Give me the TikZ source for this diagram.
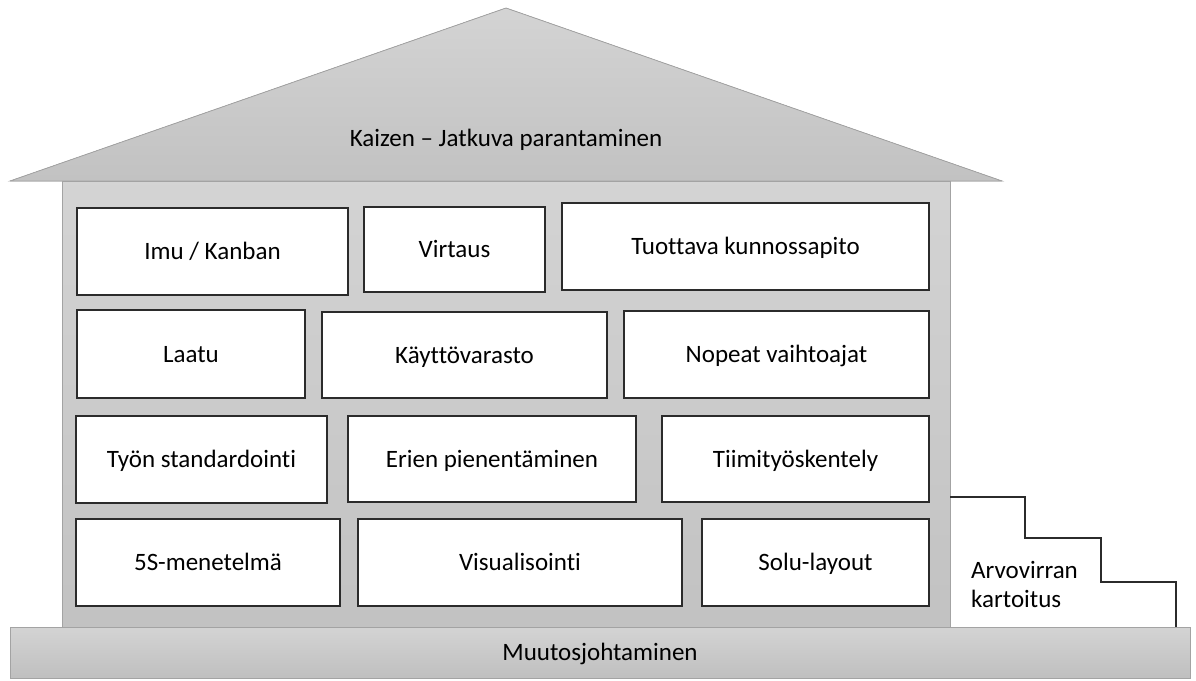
\documentclass[tikz,border=0pt]{standalone}
\usepackage{fontspec}
\setmainfont{Carlito}[Ligatures=NoCommon]
\definecolor{edgegray}{HTML}{A3A3A3}
\definecolor{boxline}{HTML}{2B2B2B}

\begin{document}
\begin{tikzpicture}[x=1pt,y=-1pt,font=\fontsize{25}{29}\selectfont,
    capline/.style={text height=16pt,text depth=0pt},
    block/.style={draw=boxline,line width=1.2pt,fill=white,inner sep=0pt,minimum width=#1,capline},
    hgt/.style={minimum height=#1}]
    \useasboundingbox (0,0) rectangle (1196,680);
    \filldraw[draw=edgegray,line width=0.8pt,top color=black!17,bottom color=black!24] (10,181) -- (506,8) -- (1002,181) -- cycle;
    \filldraw[draw=edgegray,line width=0.8pt,top color=black!17,bottom color=black!24] (62,181) rectangle (950,627);
    \node[capline] (kaizen) at (506,138) {Kaizen -- Jatkuva parantaminen};
    \node[block=271pt,hgt=87pt] (imu) at (212.5,251.5) {Imu / Kanban};
    \node[block=181pt,hgt=85pt] (virtaus) at (454.5,249.5) {Virtaus};
    \node[block=367pt,hgt=87pt] (tpm) at (745.5,246.5) {Tuottava kunnossapito};
    \node[block=228pt,hgt=88pt] (laatu) at (191,354) {Laatu};
    \node[block=285pt,hgt=86pt] (varasto) at (464.5,355) {Käyttövarasto};
    \node[block=305pt,hgt=87pt] (smed) at (776.5,354.5) {Nopeat vaihtoajat};
    \node[block=251pt,hgt=87pt] (std) at (201.5,459.5) {Työn standardointi};
    \node[block=288pt,hgt=86pt] (erat) at (492,459) {Erien pienentäminen};
    \node[block=267pt,hgt=86pt] (tiimi) at (795.5,459) {Tiimityöskentely};
    \node[block=264pt,hgt=87pt] (fiveS) at (208,562.5) {5S-menetelmä};
    \node[block=324pt,hgt=87pt] (visu) at (520,562.5) {Visualisointi};
    \node[block=227pt,hgt=87pt] (solu) at (815.5,562.5) {Solu-layout};
    \node[draw=edgegray,line width=0.8pt,top color=black!17,bottom color=black!25,
        minimum width=1180pt,minimum height=51pt,inner sep=0pt,capline] (muutos) at (600,652.5) {Muutosjohtaminen};
    \draw[boxline,line width=1.2pt] (950,497) -- (1025,497) -- (1025,538) -- (1101,538)
        -- (1101,582) -- (1176,582) -- (1176,627);
    \node[anchor=west,align=left,inner sep=0pt] (vsm) at (971,584) {Arvovirran\\kartoitus};
\end{tikzpicture}
\end{document}
